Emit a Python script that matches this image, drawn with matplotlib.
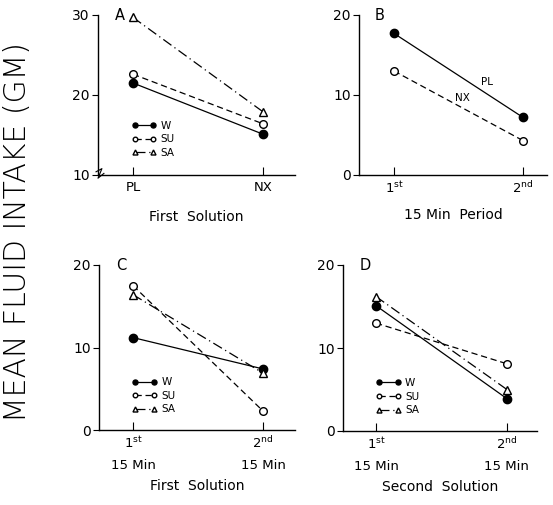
import numpy as np
import matplotlib.pyplot as plt

plt.rcParams['font.family'] = ['DejaVu Sans']

# Panel A: first solution, PL vs NX
a_cats = ['PL', 'NX']
a_w = [21.5, 15.1]
a_su = [22.6, 16.4]
a_sa = [29.7, 17.9]

# Panel B: 15 min periods, PL vs NX
b_cats = ['1$^{\\rm st}$', '2$^{\\rm nd}$']
b_pl = [17.7, 7.2]
b_nx = [13.0, 4.3]

# Panel C: first solution
c_cats = ['1$^{\\rm st}$\n15 Min', '2$^{\\rm nd}$\n15 Min']
c_w = [11.2, 7.4]
c_su = [17.5, 2.3]
c_sa = [16.4, 6.9]

# Panel D: second solution
d_cats = ['1$^{\\rm st}$\n15 Min', '2$^{\\rm nd}$\n15 Min']
d_w = [15.1, 3.9]
d_su = [13.0, 8.1]
d_sa = [16.2, 5.0]

fig = plt.figure(figsize=(5.53, 5.05), dpi=100)


def px_axes(l, r, b, t):
    return fig.add_axes([l / 553, (505 - b) / 505, (r - l) / 553, (b - t) / 505])


def style(ax, cats, ylim, yticks, xlim, letter, xlabel, lpad):
    for s in ['top', 'right']:
        ax.spines[s].set_visible(False)
    for s in ['left', 'bottom']:
        ax.spines[s].set_linewidth(1.0)
    x = np.arange(len(cats))
    ax.set_xticks(x)
    ax.set_xticklabels(cats, fontsize=9.5, linespacing=1.75)
    ax.set_yticks(yticks)
    ax.set_yticklabels([str(v) for v in yticks], fontsize=10)
    ax.tick_params(axis='x', direction='in', length=6, width=0.8, pad=4)
    ax.tick_params(axis='y', direction='out', length=4, width=0.8, pad=2)
    ax.set_xlim(*xlim)
    ax.set_ylim(*ylim)
    ax.text(0.085, 1.0, letter, transform=ax.transAxes, fontsize=10.5,
            va='center', ha='left')
    ax.set_xlabel(xlabel, fontsize=10, labelpad=lpad)


def three(ax, w, su, sa):
    x = np.arange(len(w))
    ax.plot(x, w, '-', color='black', lw=0.9, marker='o', ms=6,
            mfc='black', label='W', clip_on=False)
    ax.plot(x, su, color='black', lw=0.9, ls=(0, (5, 3)), marker='o', ms=5.5,
            mfc='white', label='SU', clip_on=False)
    ax.plot(x, sa, color='black', lw=0.9, ls=(0, (8, 3, 1, 3)), marker='^',
            ms=6, mfc='white', label='SA', clip_on=False)


def legend(ax, anchor):
    ax.legend(loc='upper left', bbox_to_anchor=anchor, frameon=False,
              numpoints=2, handlelength=2.4, markerscale=0.6,
              fontsize=7.5, borderpad=0, borderaxespad=0,
              handletextpad=0.4, labelspacing=0.35)


# A
axA = px_axes(98, 295, 175, 15)
three(axA, a_w, a_su, a_sa)
style(axA, a_cats, (10, 30), [10, 20, 30], (-0.269, 1.246), 'A',
      'First  Solution', 12)
legend(axA, (0.17, 0.34))
axA.plot([-0.01, 0.02, 0.0, 0.03], [0.02, 0.04, -0.02, 0.01],
         transform=axA.transAxes, color='black', lw=0.8, clip_on=False)

# B
axB = px_axes(359, 547, 175, 15)
x = np.arange(len(b_pl))
axB.plot(x, b_pl, '-', color='black', lw=0.9, marker='o', ms=6, mfc='black')
axB.plot(x, b_nx, color='black', lw=0.9, ls=(0, (5, 3)), marker='o', ms=5.5,
         mfc='white')
style(axB, b_cats, (0, 20), [0, 10, 20], (-0.271, 1.186), 'B',
      '15 Min  Period', 8)
axB.text(0.72, 11.6, 'PL', fontsize=7.5, ha='center', va='center')
axB.text(0.53, 9.6, 'NX', fontsize=7.5, ha='center', va='center')

# C
axC = px_axes(99, 295, 430, 265)
three(axC, c_w, c_su, c_sa)
style(axC, c_cats, (0, 20), [0, 10, 20], (-0.262, 1.246), 'C',
      'First  Solution', 5)
legend(axC, (0.17, 0.32))

# D
axD = px_axes(343, 537, 431, 265)
three(axD, d_w, d_su, d_sa)
style(axD, d_cats, (0, 20), [0, 10, 20], (-0.252, 1.23), 'D',
      'Second  Solution', 5)
legend(axD, (0.17, 0.32))

fig.text(0.032, 0.54, 'MEAN FLUID INTAKE (GM)', rotation=90, fontsize=21.5,
         ha='center', va='center', fontweight='light')

fig.savefig('out.png', dpi=100)
